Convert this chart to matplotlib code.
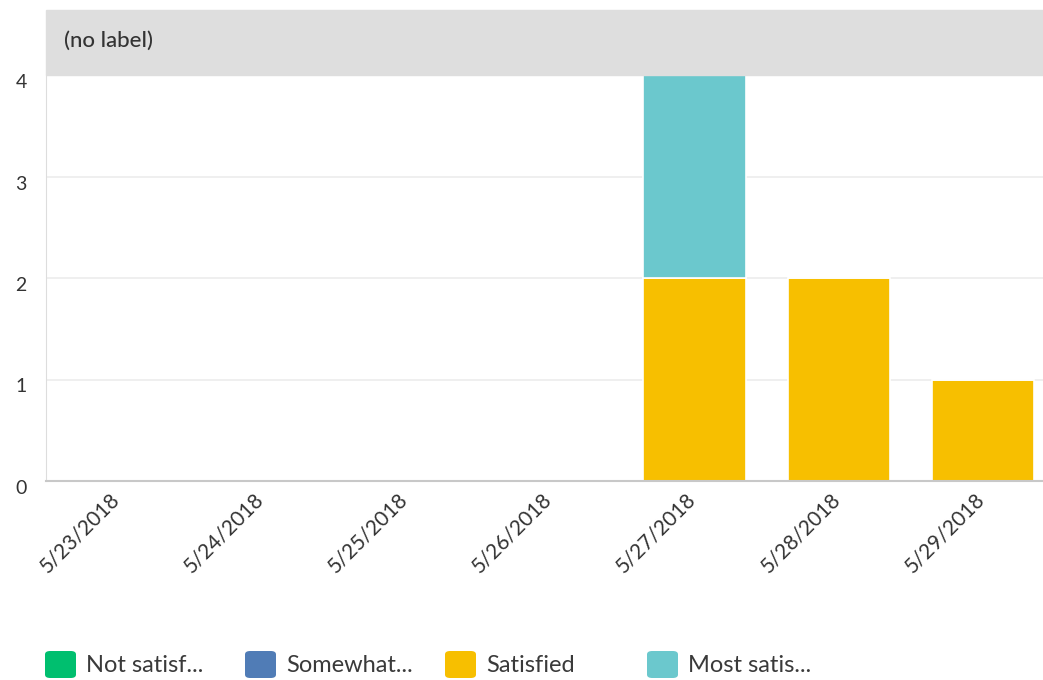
import matplotlib
matplotlib.use("Agg")
import matplotlib.pyplot as plt
import matplotlib.transforms as mtransforms
from matplotlib.patches import Rectangle, FancyBboxPatch

plt.rcParams['font.family'] = ['Lato', 'DejaVu Sans']

# data
dates = ["5/23/2018", "5/24/2018", "5/25/2018", "5/26/2018",
         "5/27/2018", "5/28/2018", "5/29/2018"]
series_names = ["Not satisf...", "Somewhat...", "Satisfied", "Most satis..."]
not_satisfied = [0, 0, 0, 0, 0, 0, 0]
somewhat = [0, 0, 0, 0, 0, 0, 0]
satisfied = [0, 0, 0, 0, 2, 2, 1]
most_satisfied = [0, 0, 0, 0, 2, 0, 0]
colors = ["#00bf6f", "#507cb6", "#f7bf00", "#6bc8cd"]

W, H = 1043, 680
fig = plt.figure(figsize=(W / 100, H / 100), dpi=100)
ax = fig.add_axes([46 / W, (H - 481) / H, (1055 - 46) / W, (481 - 75) / H])

x = list(range(len(dates)))
bottom = [0] * len(dates)
for vals, c in zip([not_satisfied, somewhat, satisfied, most_satisfied], colors):
    ax.bar(x, vals, bottom=bottom, width=0.71, color=c, edgecolor="white", linewidth=1.2, zorder=2)
    bottom = [b + v for b, v in zip(bottom, vals)]

ax.set_xlim(-0.5, len(dates) - 0.5)
ax.set_ylim(0, 4)
ax.set_yticks([0, 1, 2, 3, 4])
ax.yaxis.grid(True, color="#ececec", linewidth=1.2, zorder=0)
ax.set_axisbelow(True)

for s in ["top", "right"]:
    ax.spines[s].set_visible(False)
ax.spines["left"].set_color("#dddddd")
ax.spines["bottom"].set_color("#c8c8c8")
ax.spines["bottom"].set_linewidth(1.5)
ax.spines["bottom"].set_zorder(3)

ax.tick_params(axis="both", length=0, colors="#333333")
ax.tick_params(axis="y", pad=14, labelsize=14)
ax.set_xticks(x)
ax.set_xticklabels(dates, rotation=45, ha="right", va="top", rotation_mode="anchor", fontsize=15)
ax.tick_params(axis="x", pad=6)
off = mtransforms.ScaledTranslation(0, -6 / 100, fig.dpi_scale_trans)
for lbl in ax.get_yticklabels():
    lbl.set_transform(lbl.get_transform() + off)
xoff = mtransforms.ScaledTranslation(-9 / 100, 0, fig.dpi_scale_trans)
for lbl in ax.get_xticklabels():
    lbl.set_transform(lbl.get_transform() + xoff)

# header band
fig.patches.append(Rectangle((46 / W, (H - 75) / H), 1 - 46 / W, 65 / H,
                             transform=fig.transFigure, color="#dedede", zorder=0))
fig.text(64 / W, (H - 41) / H, "(no label)", fontsize=16, color="#333333",
         va="center", ha="left", fontweight="medium")

# legend
lx = [45, 245, 445, 647]
for px, c, name in zip(lx, colors, series_names):
    fig.patches.append(FancyBboxPatch((px / W, (H - 678) / H), 31 / W, 27 / H,
                                      boxstyle="round,pad=0,rounding_size=0.005",
                                      transform=fig.transFigure, facecolor=c, edgecolor="none"))
    fig.text((px + 41) / W, (H - 665) / H, name, fontsize=17, color="#3a3a3a",
             va="center", ha="left")

fig.savefig("out.png", dpi=100)
